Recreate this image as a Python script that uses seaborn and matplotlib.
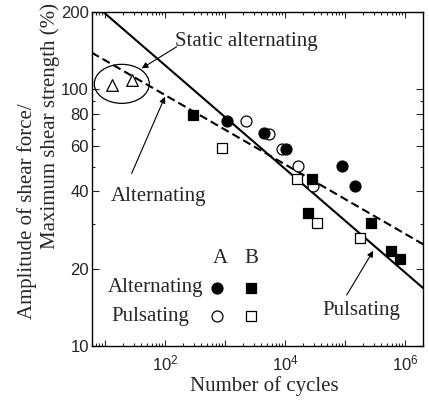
import numpy as np
import pandas as pd
import matplotlib
matplotlib.use("Agg")
import matplotlib.pyplot as plt
from matplotlib.patches import Ellipse
from matplotlib.ticker import FixedLocator, FuncFormatter, NullFormatter
import seaborn as sns

# ---------------- data ----------------
static_cycles = [13, 28]
static_ratio = [104, 109]

a_alt_cycles = [1070, 4470, 10400, 88000, 147000]
a_alt_ratio = [75.3, 67.4, 58.7, 50.4, 42.0]

a_pul_cycles = [2240, 5470, 8800, 16300, 29600]
a_pul_ratio = [75.5, 67.0, 58.7, 50.4, 42.0]

b_alt_cycles = [297, 24500, 27900, 268000, 585000, 826000]
b_alt_ratio = [79.4, 32.9, 44.8, 30.1, 23.4, 21.8]

b_pul_cycles = [881, 16000, 34600, 178000]
b_pul_ratio = [58.9, 44.8, 30.2, 26.3]

# fitted lines (endpoints)
pulsating_fit_x = [9.4, 2.02e6]
pulsating_fit_y = [200, 16.8]
alternating_fit_x = [6.0, 2.02e6]
alternating_fit_y = [139, 24.9]

x_label_decades = [2, 4, 6]
y_tick_values = [10, 20, 40, 60, 80, 100, 200]
y_minor_values = [30, 50, 70, 90]

ylabel_line1 = 'Amplitude of shear force/'
ylabel_line2 = 'Maximum shear strength (%)'

# ---------------- style ----------------
sns.set_style("ticks")
plt.rcParams['font.family'] = ['Liberation Serif', 'DejaVu Serif']
plt.rcParams['mathtext.fontset'] = 'custom'
plt.rcParams['mathtext.rm'] = 'Liberation Sans'
plt.rcParams['mathtext.it'] = 'Liberation Sans:italic'
plt.rcParams['mathtext.bf'] = 'Liberation Sans:bold'

fig = plt.figure(figsize=(4.29, 4.01), dpi=100)
ax = fig.add_axes([0.2137, 0.137, 0.773, 0.833])

ax.set_xscale('log')
ax.set_yscale('log')

# fitted lines
sns.lineplot(x=pulsating_fit_x, y=pulsating_fit_y, ax=ax, color='black', lw=1.5)
sns.lineplot(x=alternating_fit_x, y=alternating_fit_y, ax=ax, color='black', lw=1.5,
             linestyle=(0, (4, 2)))

ms = 62
sns.scatterplot(x=static_cycles, y=static_ratio, ax=ax, marker='^', s=70,
                color='white', edgecolor='black', linewidth=0.9, zorder=3)
sns.scatterplot(x=a_pul_cycles, y=a_pul_ratio, ax=ax, marker='o', s=ms,
                color='white', edgecolor='black', linewidth=0.9, zorder=3)
sns.scatterplot(x=b_pul_cycles, y=b_pul_ratio, ax=ax, marker='s', s=ms,
                color='white', edgecolor='black', linewidth=0.9, zorder=3)
sns.scatterplot(x=a_alt_cycles, y=a_alt_ratio, ax=ax, marker='o', s=ms,
                color='black', edgecolor='black', linewidth=0.9, zorder=4)
sns.scatterplot(x=b_alt_cycles, y=b_alt_ratio, ax=ax, marker='s', s=ms,
                color='black', edgecolor='black', linewidth=0.9, zorder=4)

ax.set_xlim(6.0, 2.02e6)
ax.set_ylim(10, 200)

# x ticks
ax.xaxis.set_major_locator(FixedLocator([10.0 ** k for k in range(1, 7)]))
ax.xaxis.set_minor_locator(FixedLocator(
    [m * 10.0 ** k for k in range(0, 7) for m in range(2, 10)]))
ax.xaxis.set_major_formatter(FuncFormatter(
    lambda v, p: (r'$10^{%d}$' % round(np.log10(v))) if round(np.log10(v)) in x_label_decades else ''))
ax.xaxis.set_minor_formatter(NullFormatter())

# y ticks
ax.yaxis.set_major_locator(FixedLocator(y_tick_values))
ax.yaxis.set_minor_locator(FixedLocator(y_minor_values))
ax.yaxis.set_major_formatter(FuncFormatter(lambda v, p: '%d' % v))
ax.yaxis.set_minor_formatter(NullFormatter())

ax.tick_params(which='both', direction='in', top=True, right=True, width=0.8)
ax.tick_params(which='major', length=4)
ax.tick_params(which='minor', length=2)
ax.tick_params(axis='y', which='major', length=5, pad=2)
ax.tick_params(axis='x', which='major', pad=5)
for lab in ax.get_xticklabels() + ax.get_yticklabels():
    lab.set_fontfamily('Liberation Sans')
    lab.set_fontsize(12)
for sp in ax.spines.values():
    sp.set_linewidth(1.0)
    sp.set_color('black')

fs = 15
ax.set_xlabel('Number of cycles', fontsize=fs)
ax.xaxis.set_label_coords(0.52, -0.09)
# two-line y label, lines staggered as in the original
fig.text(0.063, 0.4738, ylabel_line1, rotation=90, ha='center', va='center', fontsize=fs)
fig.text(0.1166, 0.6858, ylabel_line2, rotation=90, ha='center', va='center', fontsize=fs)

# ellipse around static points
ax.add_patch(Ellipse((0.0908, 0.785), 0.166, 0.1168, transform=ax.transAxes,
                     fill=False, edgecolor='black', lw=0.9))

arrow = dict(arrowstyle='-|>', color='black', lw=0.8, mutation_scale=9,
             shrinkA=0, shrinkB=0)
ax.text(0.4674, 0.911, 'Static alternating', transform=ax.transAxes,
        ha='center', va='center', fontsize=fs)
ax.annotate('', xy=(0.1508, 0.8314), xytext=(0.2563, 0.896), xycoords='axes fraction',
            textcoords='axes fraction', arrowprops=arrow)
ax.text(0.2008, 0.447, 'Alternating', transform=ax.transAxes,
        ha='center', va='center', fontsize=fs)
ax.annotate('', xy=(0.221, 0.7464), xytext=(0.1206, 0.517), xycoords='axes fraction',
            textcoords='axes fraction', arrowprops=arrow)
ax.text(0.8142, 0.1078, 'Pulsating', transform=ax.transAxes,
        ha='center', va='center', fontsize=fs)
ax.annotate('', xy=(0.849, 0.2853), xytext=(0.769, 0.1527), xycoords='axes fraction',
            textcoords='axes fraction', arrowprops=arrow)

# custom legend table
ax.text(0.387, 0.261, 'A', transform=ax.transAxes, ha='center', va='center', fontsize=fs)
ax.text(0.4825, 0.261, 'B', transform=ax.transAxes, ha='center', va='center', fontsize=fs)
ax.text(0.194, 0.1746, 'Alternating', transform=ax.transAxes, ha='center', va='center', fontsize=fs)
ax.text(0.176, 0.0898, 'Pulsating', transform=ax.transAxes, ha='center', va='center', fontsize=fs)
ax.scatter([0.377], [0.1746], transform=ax.transAxes, marker='o', s=ms, c='black',
           edgecolors='black', linewidths=0.9, clip_on=False)
ax.scatter([0.4795], [0.1746], transform=ax.transAxes, marker='s', s=ms, c='black',
           edgecolors='black', linewidths=0.9, clip_on=False)
ax.scatter([0.377], [0.0898], transform=ax.transAxes, marker='o', s=ms, c='white',
           edgecolors='black', linewidths=0.9, clip_on=False)
ax.scatter([0.4795], [0.0898], transform=ax.transAxes, marker='s', s=ms, c='white',
           edgecolors='black', linewidths=0.9, clip_on=False)

fig.savefig('out.png', dpi=100)
